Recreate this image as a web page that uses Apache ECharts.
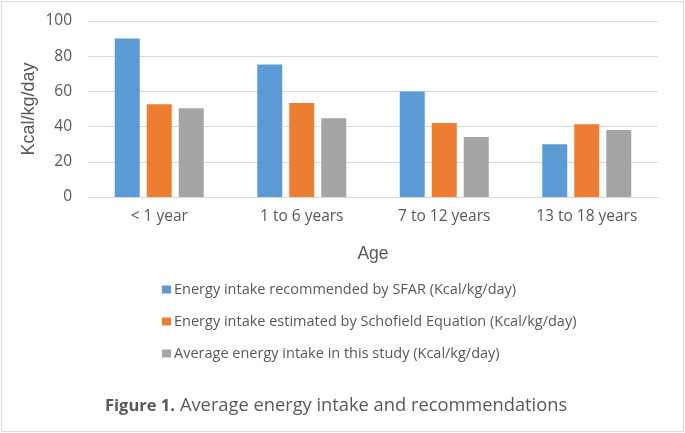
<!DOCTYPE html>
<html>
<head>
<meta charset="utf-8">
<script src="https://cdn.jsdelivr.net/npm/echarts@6/dist/echarts.min.js"></script>
<style>
html,body{margin:0;padding:0;background:#fff;}
#c{width:685px;height:433px;}
</style>
</head>
<body>
<div id="c"></div>
<script>
var categories = ['< 1 year', '1 to 6 years', '7 to 12 years', '13 to 18 years'];
var seriesNames = [
  'Energy intake recommended by SFAR (Kcal/kg/day)',
  'Energy intake estimated by Schofield Equation (Kcal/kg/day)',
  'Average energy intake in this study (Kcal/kg/day)'
];
var sfarValues = [90, 75.3, 60, 30];
var schofieldValues = [52.7, 53.4, 42.1, 41.3];
var studyValues = [50.4, 44.7, 34.1, 38.1];
var yTicks = [0, 20, 40, 60, 80, 100];

var FONT = '"Open Sans", sans-serif';
var FONT2 = '"Liberation Sans", Arial, sans-serif';
var chart = echarts.init(document.getElementById('c'));
var colors = ['#5B9BD5', '#ED7D31', '#A5A5A5'];
function bar(name, data, color) {
  return {
    name: name, type: 'bar', data: data, barWidth: 25, barGap: '28%',
    itemStyle: { color: color }, emphasis: { disabled: true }
  };
}
chart.setOption({
  animation: false,
  color: colors,
  graphic: [{
    type: 'rect', shape: { x: 1.5, y: 1.5, width: 682, height: 430 },
    style: { fill: 'none', stroke: '#d9d9d9', lineWidth: 1 }, silent: true
  }],
  title: {
    left: 100, top: 392,
    text: '{b|Figure 1.} {r|Average energy intake and recommendations}',
    textStyle: {
      rich: {
        b: { fontFamily: FONT, fontWeight: 'bold', fontSize: 16.5, color: '#595959' },
        r: { fontFamily: FONT, fontWeight: 'normal', fontSize: 18.3, color: '#595959' }
      }
    }
  },
  legend: {
    orient: 'vertical', left: 157, top: 277, itemGap: 17,
    itemWidth: 9, itemHeight: 8, icon: 'rect',
    textStyle: { fontFamily: FONT, fontSize: 14.5, color: '#595959', padding: [0, 0, 0, -2] },
    data: seriesNames
  },
  grid: { left: 88, right: 27, top: 21, bottom: 236, containLabel: false },
  xAxis: {
    type: 'category', data: categories,
    name: 'Age', nameLocation: 'middle', nameGap: 48,
    nameTextStyle: { fontFamily: FONT2, fontSize: 17.5, color: '#595959' },
    axisTick: { show: false },
    axisLine: { lineStyle: { color: '#d9d9d9' } },
    axisLabel: { fontFamily: FONT, fontSize: 15.5, color: '#595959', margin: 12 }
  },
  yAxis: {
    type: 'value', min: yTicks[0], max: yTicks[yTicks.length - 1], interval: 20,
    name: 'Kcal/kg/day', nameLocation: 'middle', nameGap: 50, nameMoveOverlap: false,
    nameTextStyle: { fontFamily: FONT2, fontSize: 18, color: '#595959' },
    axisLine: { show: false }, axisTick: { show: false },
    splitLine: { lineStyle: { color: '#d9d9d9' } },
    axisLabel: { fontFamily: FONT, fontSize: 15.5, color: '#595959', margin: 16 }
  },
  series: [
    bar(seriesNames[0], sfarValues, colors[0]),
    bar(seriesNames[1], schofieldValues, colors[1]),
    bar(seriesNames[2], studyValues, colors[2])
  ]
});
</script>
</body>
</html>
